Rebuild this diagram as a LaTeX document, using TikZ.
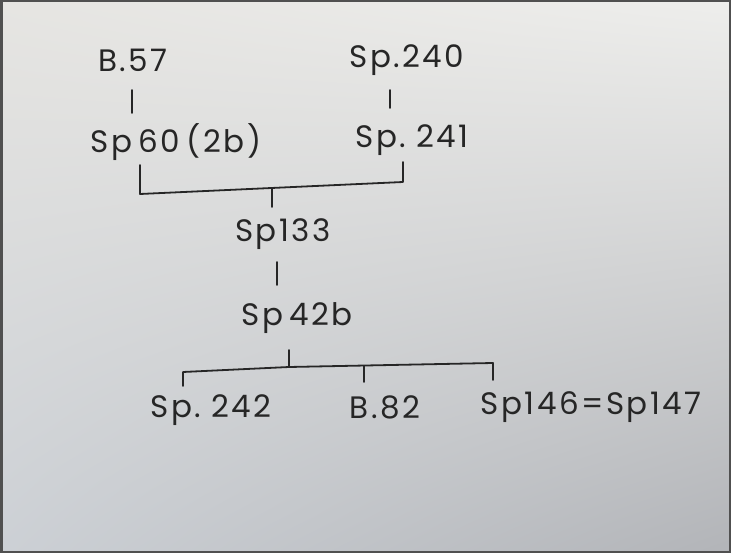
\documentclass[tikz,border=0pt]{standalone}
\usepackage{fontspec}
\setmainfont{Poppins}[LetterSpace=8, WordSpace=0.6]
\usetikzlibrary{shadings}
\definecolor{ink}{HTML}{262626}
\definecolor{frame}{HTML}{505050}
\definecolor{pUL}{HTML}{E6E5E2}
\definecolor{pUR}{HTML}{EEEEEC}
\definecolor{pLL}{HTML}{CCD0D5}
\definecolor{pLR}{HTML}{B2B4B8}
\begin{document}
\begin{tikzpicture}[x=1pt,y=-1pt,
  label/.style={inner sep=0pt, font=\fontsize{31}{31}\selectfont, text=ink},
  stroke/.style={draw=ink, line width=1.8pt, line cap=round, line join=round}]
\useasboundingbox (0,0) rectangle (731,553);
\shade[upper left=pUL, upper right=pUR, lower left=pLL, lower right=pLR] (0,0) rectangle (731,553);
\draw[frame, line width=2.5pt] (1.25,1.25) rectangle (729.75,551.75);
% texts
\node[label] (b57)   at (133,60)  {B.57};
\node[label] (sp240) at (407,60)  {Sp.240};
\node[label] (sp60)  at (176,142) {Sp 60 (2b)};
\node[label] (sp241) at (412,140) {Sp. 241};
\node[label] (sp133) at (283,234) {Sp133};
\node[label] (sp42b) at (297,318) {Sp 42b};
\node[label] (sp242) at (211,410) {Sp. 242};
\node[label] (b82)   at (385,407) {B.82};
\node[label] (sp146) at (591,407) {Sp146=Sp147};
% connector coordinates
\coordinate (a1) at (132,90);  \coordinate (a2) at (132,113);
\coordinate (c1) at (390,90);  \coordinate (c2) at (390,108);
\coordinate (ul) at (140,165); \coordinate (ulb) at (140,194);
\coordinate (urb) at (403,182); \coordinate (ur) at (403,162);
\coordinate (ut) at (272,188); \coordinate (utb) at (272,207);
\coordinate (m1) at (277,262); \coordinate (m2) at (277,285);
\coordinate (lt) at (289,350); \coordinate (lj) at (289,367);
\coordinate (ll) at (183,372); \coordinate (llb) at (183,386);
\coordinate (lm) at (364,366); \coordinate (lmb) at (364,382);
\coordinate (lr) at (493,363); \coordinate (lrb) at (493,380);
% connectors
\draw[stroke] (a1) -- (a2);
\draw[stroke] (c1) -- (c2);
\draw[stroke] (ul) -- (ulb) -- (urb) -- (ur);
\draw[stroke] (ut) -- (utb);
\draw[stroke] (m1) -- (m2);
\draw[stroke] (lt) -- (lj);
\draw[stroke] (llb) -- (ll) -- (lj) -- (lr) -- (lrb);
\draw[stroke] (lm) -- (lmb);
\end{tikzpicture}
\end{document}
